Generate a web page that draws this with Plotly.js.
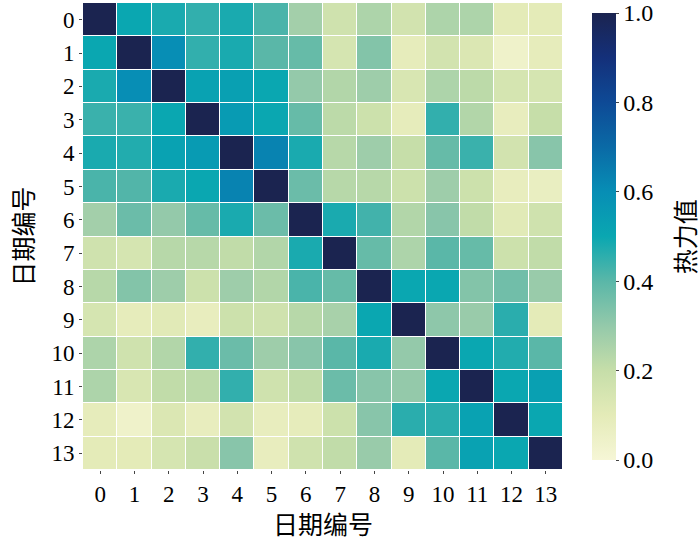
<!DOCTYPE html>
<html>
<head>
<meta charset="utf-8">
<script src="https://cdn.plot.ly/plotly-3.0.1.min.js"></script>
<style>body{margin:0;background:#fff}</style>
</head>
<body>
<div id="HeatMap" style="width:700px;height:540px"></div>
<script>
// day index labels
let days = [0, 1, 2, 3, 4, 5, 6, 7, 8, 9, 10, 11, 12, 13]

// heat values, one row per day
let row0 = [1.00, 0.50, 0.48, 0.45, 0.48, 0.42, 0.27, 0.17, 0.25, 0.16, 0.25, 0.25, 0.10, 0.10]
let row1 = [0.50, 1.00, 0.60, 0.45, 0.48, 0.40, 0.38, 0.15, 0.33, 0.09, 0.16, 0.13, 0.04, 0.09]
let row2 = [0.48, 0.60, 1.00, 0.52, 0.53, 0.50, 0.30, 0.24, 0.28, 0.14, 0.25, 0.22, 0.15, 0.15]
let row3 = [0.44, 0.44, 0.50, 1.00, 0.55, 0.50, 0.38, 0.22, 0.18, 0.09, 0.45, 0.24, 0.08, 0.20]
let row4 = [0.48, 0.47, 0.52, 0.55, 1.00, 0.63, 0.48, 0.23, 0.28, 0.20, 0.38, 0.44, 0.16, 0.32]
let row5 = [0.42, 0.41, 0.48, 0.50, 0.63, 1.00, 0.37, 0.23, 0.23, 0.18, 0.28, 0.18, 0.08, 0.07]
let row6 = [0.27, 0.37, 0.30, 0.38, 0.48, 0.37, 1.00, 0.48, 0.43, 0.24, 0.32, 0.21, 0.11, 0.17]
let row7 = [0.17, 0.15, 0.23, 0.23, 0.21, 0.24, 0.48, 1.00, 0.38, 0.25, 0.40, 0.38, 0.18, 0.21]
let row8 = [0.23, 0.33, 0.28, 0.18, 0.28, 0.24, 0.42, 0.38, 1.00, 0.50, 0.50, 0.33, 0.36, 0.29]
let row9 = [0.15, 0.09, 0.11, 0.08, 0.18, 0.17, 0.23, 0.26, 0.50, 1.00, 0.31, 0.29, 0.46, 0.10]
let row10 = [0.25, 0.17, 0.24, 0.45, 0.37, 0.28, 0.32, 0.40, 0.48, 0.30, 1.00, 0.50, 0.47, 0.40]
let row11 = [0.25, 0.14, 0.21, 0.22, 0.45, 0.17, 0.21, 0.37, 0.32, 0.30, 0.50, 1.00, 0.50, 0.53]
let row12 = [0.09, 0.04, 0.13, 0.08, 0.16, 0.08, 0.09, 0.18, 0.32, 0.46, 0.46, 0.52, 1.00, 0.50]
let row13 = [0.10, 0.10, 0.15, 0.19, 0.32, 0.08, 0.17, 0.21, 0.29, 0.10, 0.40, 0.52, 0.50, 1.00]

let heat = [row0, row1, row2, row3, row4, row5, row6, row7, row8, row9, row10, row11, row12, row13]

// YlGnBu-like scale, sampled from the reference colour bar
let scale = [
  [0.0, '#f6f6d6'], [0.1, '#e4ebb8'], [0.2, '#c6dea9'], [0.3, '#94c9aa'],
  [0.4, '#5ab7a8'], [0.5, '#0aa7b1'], [0.6, '#078eb5'], [0.7, '#0a6aa6'],
  [0.8, '#0e4a96'], [0.9, '#14307a'], [1.0, '#1b2450']
]

let fontFam = 'Liberation Serif, Noto Sans CJK SC, serif'

let trace = {
  type: 'heatmap',
  x: days,
  y: days,
  z: heat,
  zmin: 0,
  zmax: 1,
  colorscale: scale,
  xgap: 1,
  ygap: 1,
  colorbar: {
    x: 1.06,
    xanchor: 'left',
    xpad: 0,
    y: 0.5,
    ypad: 10,
    len: 1,
    thickness: 24,
    outlinewidth: 0,
    ticks: 'outside',
    ticklen: 3,
    tickvals: [0, 0.2, 0.4, 0.6, 0.8, 1.0],
    ticktext: ['0.0', '0.2', '0.4', '0.6', '0.8', '1.0'],
    tickfont: {family: fontFam, size: 24, color: '#000'}
  }
}

Plotly.newPlot('HeatMap', [trace], {
  width: 700,
  height: 540,
  margin: {l: 83, r: 137, t: 3, b: 70, autoexpand: false},
  paper_bgcolor: '#fff',
  plot_bgcolor: '#fff',
  font: {family: fontFam, color: '#000'},
  xaxis: {
    tickvals: days,
    ticks: 'outside',
    ticklen: 3,
    tickfont: {size: 23},
    showgrid: false,
    zeroline: false,
    title: {text: '日期编号', font: {size: 25}, standoff: 10}
  },
  yaxis: {
    tickvals: days,
    autorange: 'reversed',
    ticks: 'outside',
    ticklen: 3,
    tickfont: {size: 23},
    showgrid: false,
    zeroline: false,
    title: {text: '日期编号', font: {size: 25}, standoff: 10}
  },
  // colour bar title, placed where the reference has it
  annotations: [{
    text: '热力值',
    xref: 'paper',
    yref: 'paper',
    x: 1.29,
    y: 0.5,
    textangle: -90,
    showarrow: false,
    font: {size: 25}
  }]
}, {displayModeBar: false})
</script>
</body>
</html>
